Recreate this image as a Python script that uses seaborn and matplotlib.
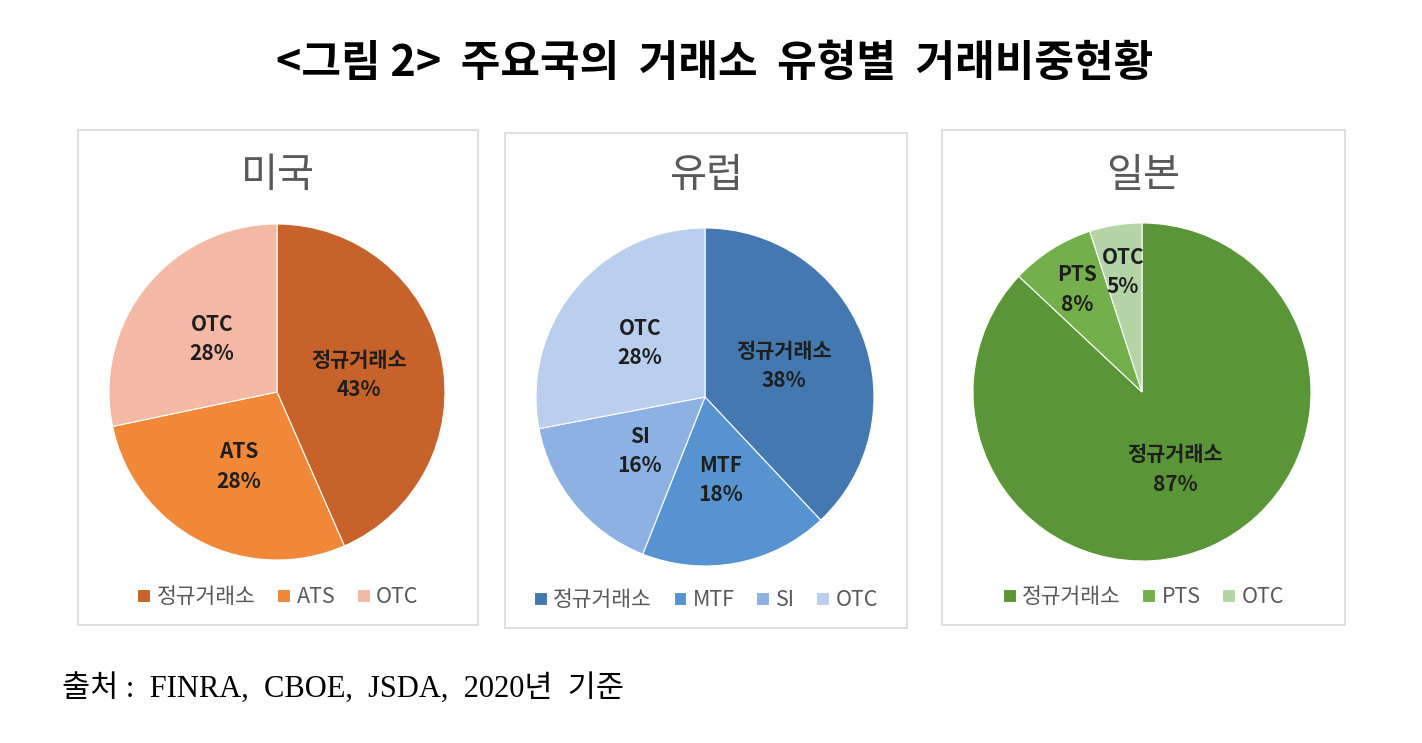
import matplotlib
matplotlib.use("Agg")
import matplotlib.pyplot as plt
import seaborn as sns
from matplotlib.patches import Rectangle
import numpy as np

# 데이터
title = "<그림 2>  주요국의  거래소  유형별  거래비중현황"
source = "출처 :  FINRA,  CBOE,  JSDA,  2020년  기준"

us_labels = ["정규거래소", "ATS", "OTC"]
us_values = [43, 28, 28]
eu_labels = ["정규거래소", "MTF", "SI", "OTC"]
eu_values = [38, 18, 16, 28]
jp_labels = ["정규거래소", "PTS", "OTC"]
jp_values = [87, 8, 5]

us_colors = sns.color_palette(["#C7622A", "#F08838", "#F4B9A5"])
eu_colors = sns.color_palette(["#4478B0", "#5693D0", "#8DB1E2", "#BACFED"])
jp_colors = sns.color_palette(["#5A9637", "#73AF4B", "#B4D4A5"])

sns.set_theme(style="white")
plt.rcParams['font.family'] = ['Noto Sans CJK KR', 'DejaVu Sans']

W, H = 1422, 743
fig = plt.figure(figsize=(W / 100, H / 100), dpi=100)
fig.patch.set_facecolor("white")


def px_box(x0, y0, w, h):
    # 픽셀 좌표(위쪽 기준) -> figure 비율
    return [x0 / W, 1 - (y0 + h) / H, w / W, h / H]


def draw_panel(name, labels, values, colors, frame, center, r, leg_y):
    fx, fy, fw, fh = frame
    b = px_box(fx, fy, fw, fh)
    fig.patches.append(Rectangle((b[0], b[1]), b[2], b[3], transform=fig.transFigure,
                                 facecolor="none", edgecolor="#D9D9D9", lw=1.2))
    cx, cy = center
    ax = fig.add_axes(px_box(cx - r, cy - r, 2 * r, 2 * r))
    wedges, _ = ax.pie(values, colors=colors, startangle=90, counterclock=False,
                       wedgeprops=dict(edgecolor="white", linewidth=0.8))
    ax.set_xlim(-1, 1)
    ax.set_ylim(-1, 1)
    total = sum(values)
    for w, lab, v in zip(wedges, labels, values):
        ang = np.deg2rad((w.theta1 + w.theta2) / 2)
        d = 0.5 if v / total >= 0.1 else 0.72
        ax.text(d * np.cos(ang), d * np.sin(ang), f"{lab}\n{v}%", ha="center", va="center",
                fontsize=15, fontweight="bold", color="#1E1E1E", linespacing=1.5)
    fig.text((fx + fw / 2) / W, 1 - 175 / H, name, ha="center", va="center",
             fontsize=29, color="#595959")
    fig.legend(wedges, labels, loc="center", bbox_to_anchor=((fx + fw / 2) / W, 1 - leg_y / H),
               ncol=len(labels), frameon=False, fontsize=15.5, handlelength=0.6, handleheight=0.6,
               handletextpad=0.3, columnspacing=1.0, labelcolor="#595959")


draw_panel("미국", us_labels, us_values, us_colors, (78, 130, 400, 495), (277, 392), 168, 597)
draw_panel("유럽", eu_labels, eu_values, eu_colors, (505, 133, 402, 495), (705, 397), 169, 600)
draw_panel("일본", jp_labels, jp_values, jp_colors, (942, 130, 403, 495), (1142, 392), 169, 597)

fig.text(715 / W, 1 - 63 / H, title, ha="center", va="center", fontsize=31, fontweight="bold",
         color="black")
fig.text(62 / W, 1 - 688 / H, source, ha="left", va="center", fontsize=22, color="black",
         family=['Liberation Serif', 'Noto Sans CJK KR'])

fig.savefig("out.png", dpi=100, facecolor="white")
